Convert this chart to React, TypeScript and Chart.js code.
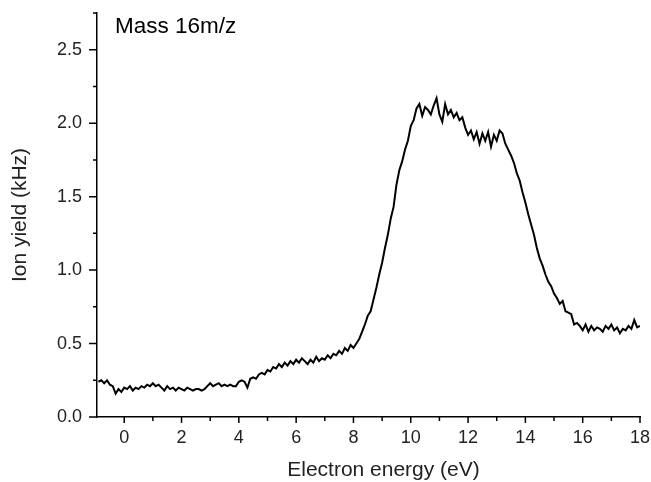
import React, { useEffect, useRef } from "react";
import { Chart, registerables } from "chart.js";

Chart.register(...registerables);

// Sampling grid of the measured curve (electron energy, eV)
const ENERGY_START = -0.9;
const ENERGY_STEP = 0.1;

// Ion yield (kHz), one row per eV, starting at -0.9 eV
const YIELD: number[] = [
  0.24, 0.25, 0.23, 0.25, 0.22, 0.21, 0.16, 0.19, 0.17, 0.20,
  0.19, 0.21, 0.18, 0.20, 0.19, 0.21, 0.20, 0.22, 0.21, 0.23,
  0.21, 0.22, 0.20, 0.18, 0.21, 0.19, 0.20, 0.18, 0.20, 0.19,
  0.18, 0.20, 0.19, 0.18, 0.19, 0.19, 0.18, 0.19, 0.21, 0.23,
  0.21, 0.22, 0.23, 0.21, 0.22, 0.21, 0.22, 0.21, 0.21, 0.24,
  0.25, 0.24, 0.20, 0.26, 0.27, 0.26, 0.29, 0.30, 0.29, 0.32,
  0.31, 0.34, 0.33, 0.36, 0.34, 0.37, 0.35, 0.38, 0.36, 0.39,
  0.37, 0.40, 0.38, 0.36, 0.39, 0.37, 0.41, 0.38, 0.40, 0.39,
  0.42, 0.40, 0.43, 0.42, 0.45, 0.43, 0.47, 0.45, 0.49, 0.47,
  0.50, 0.53, 0.58, 0.63, 0.69, 0.72, 0.80, 0.88, 0.97, 1.05,
  1.15, 1.24, 1.35, 1.43, 1.58, 1.68, 1.74, 1.82, 1.88, 1.98,
  2.02, 2.10, 2.13, 2.05, 2.11, 2.09, 2.06, 2.12, 2.17, 2.06,
  2.01, 2.13, 2.06, 2.09, 2.04, 2.07, 2.02, 2.04, 1.97, 1.92,
  1.95, 1.89, 1.94, 1.86, 1.93, 1.88, 1.94, 1.84, 1.92, 1.88,
  1.95, 1.93, 1.86, 1.82, 1.78, 1.73, 1.66, 1.61, 1.53, 1.46,
  1.38, 1.31, 1.24, 1.15, 1.08, 1.03, 0.97, 0.92, 0.89, 0.84,
  0.81, 0.77, 0.79, 0.72, 0.71, 0.70, 0.63, 0.64, 0.62, 0.59,
  0.63, 0.58, 0.62, 0.59, 0.61, 0.60, 0.58, 0.62, 0.60, 0.63,
  0.59, 0.61, 0.57, 0.60, 0.59, 0.62, 0.60, 0.66, 0.61, 0.62,
];

const X_MAJOR_TICKS = [0, 2, 4, 6, 8, 10, 12, 14, 16, 18];
const X_MINOR_TICKS = [1, 3, 5, 7, 9, 11, 13, 15, 17];
const Y_MAJOR_TICKS = [0, 0.5, 1.0, 1.5, 2.0, 2.5];
const Y_MINOR_TICKS = [0.25, 0.75, 1.25, 1.75, 2.25, 2.75];

const X_MIN = -0.95;
const X_MAX = 18;
const Y_MIN = 0;
const Y_MAX = 2.75;

const LABEL_TEXT = "Mass 16m/z";
const X_TITLE = "Electron energy (eV)";
const Y_TITLE = "Ion yield (kHz)";

const FONT = "'Liberation Sans', Arial, Helvetica, sans-serif";

const tickPlugin = {
  id: "customTicks",
  afterDraw(chart: any) {
    const ctx = chart.ctx;
    const xs = chart.scales.x;
    const ys = chart.scales.y;
    const area = chart.chartArea;
    ctx.save();
    ctx.strokeStyle = "#000";
    ctx.lineWidth = 1.5;
    ctx.beginPath();
    X_MAJOR_TICKS.forEach((v) => {
      const px = xs.getPixelForValue(v);
      ctx.moveTo(px, area.bottom);
      ctx.lineTo(px, area.bottom + 6);
    });
    X_MINOR_TICKS.forEach((v) => {
      const px = xs.getPixelForValue(v);
      ctx.moveTo(px, area.bottom);
      ctx.lineTo(px, area.bottom + 4);
    });
    Y_MAJOR_TICKS.forEach((v) => {
      const py = ys.getPixelForValue(v);
      ctx.moveTo(area.left, py);
      ctx.lineTo(area.left - 8, py);
    });
    Y_MINOR_TICKS.forEach((v) => {
      const py = ys.getPixelForValue(v);
      ctx.moveTo(area.left, py);
      ctx.lineTo(area.left - 4, py);
    });
    ctx.stroke();

    ctx.fillStyle = "#000";
    ctx.font = `22.5px ${FONT}`;
    ctx.textBaseline = "middle";
    ctx.textAlign = "left";
    ctx.fillText(LABEL_TEXT, area.left + 18, area.top + 14);

    ctx.fillStyle = "#222";
    ctx.font = `21px ${FONT}`;
    ctx.textAlign = "center";
    ctx.fillText(X_TITLE, (area.left + area.right) / 2 + 15, area.bottom + 53);
    ctx.restore();
  },
};

export default function App() {
  const canvasRef = useRef<HTMLCanvasElement | null>(null);

  useEffect(() => {
    document.body.style.margin = "0";
    const canvas = canvasRef.current;
    if (!canvas) return;
    const points = YIELD.map((y, i) => ({
      x: Math.round((ENERGY_START + i * ENERGY_STEP) * 100) / 100,
      y,
    }));
    const chart = new Chart(canvas, {
      type: "line",
      data: {
        datasets: [
          {
            data: points,
            borderColor: "#000",
            borderWidth: 2,
            pointRadius: 0,
            tension: 0,
            fill: false,
          },
        ],
      },
      options: {
        animation: false,
        responsive: false,
        devicePixelRatio: 1,
        layout: { padding: { left: 0, top: 13, right: 11, bottom: 0 } },
        plugins: {
          legend: { display: false },
          tooltip: { enabled: false },
        },
        scales: {
          x: {
            type: "linear",
            min: X_MIN,
            max: X_MAX,
            afterBuildTicks: (scale: any) => {
              scale.ticks = X_MAJOR_TICKS.map((v) => ({ value: v }));
            },
            afterFit: (scale: any) => {
              scale.height = 65;
              scale.paddingLeft = 0;
              scale.paddingRight = 0;
            },
            grid: { display: true, drawOnChartArea: false, drawTicks: false },
            border: { display: true, color: "#000", width: 1.5 },
            ticks: {
              color: "#222",
              padding: 10,
              maxRotation: 0,
              font: { family: FONT, size: 18 },
              callback: (v: any) => String(v),
            },
            title: { display: false },
          },
          y: {
            type: "linear",
            min: Y_MIN,
            max: Y_MAX,
            afterBuildTicks: (scale: any) => {
              scale.ticks = Y_MAJOR_TICKS.map((v) => ({ value: v }));
            },
            afterFit: (scale: any) => {
              scale.width = 97;
              scale.paddingTop = 0;
              scale.paddingBottom = 0;
            },
            grid: { display: true, drawOnChartArea: false, drawTicks: false },
            border: { display: true, color: "#000", width: 1.5 },
            ticks: {
              color: "#222",
              padding: 15,
              font: { family: FONT, size: 18 },
              callback: (v: any) => Number(v).toFixed(1),
            },
            title: {
              display: true,
              text: Y_TITLE,
              color: "#222",
              font: { family: FONT, size: 21, lineHeight: 1.1 },
              padding: { top: 9, bottom: 0 },
            },
          },
        },
      },
      plugins: [tickPlugin],
    });
    return () => chart.destroy();
  }, []);

  return (
    <div style={{ position: "absolute", left: 0, top: 0, width: 651, height: 482, background: "#fff" }}>
      <canvas ref={canvasRef} width={651} height={482} style={{ width: 651, height: 482 }} />
    </div>
  );
}
